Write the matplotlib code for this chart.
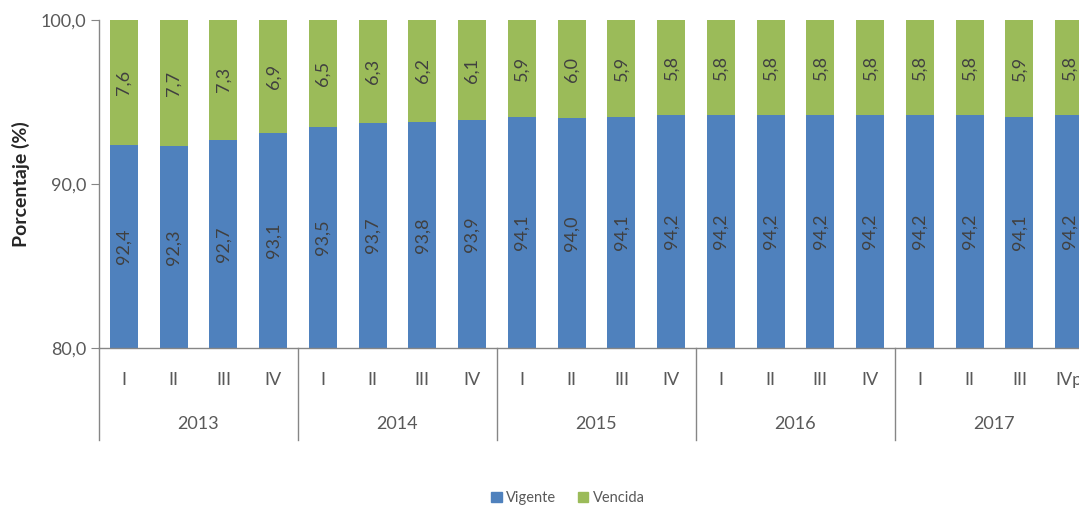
import numpy as np
import matplotlib
matplotlib.use('Agg')
import matplotlib.pyplot as plt
import matplotlib.transforms as mtransforms

plt.rcParams['font.family'] = ['Lato', 'DejaVu Sans']

years = ['2013', '2014', '2015', '2016', '2017']
quarters = ['I', 'II', 'III', 'IV', 'I', 'II', 'III', 'IV', 'I', 'II', 'III', 'IV',
            'I', 'II', 'III', 'IV', 'I', 'II', 'III', 'IVp']
vigente = [92.4, 92.3, 92.7, 93.1, 93.5, 93.7, 93.8, 93.9, 94.1, 94.0,
           94.1, 94.2, 94.2, 94.2, 94.2, 94.2, 94.2, 94.2, 94.1, 94.2]
vencida = [7.6, 7.7, 7.3, 6.9, 6.5, 6.3, 6.2, 6.1, 5.9, 6.0,
           5.9, 5.8, 5.8, 5.8, 5.8, 5.8, 5.8, 5.8, 5.9, 5.8]

blue = '#4F81BD'
green = '#9BBB59'
txt = '#404040'
axc = '#868686'

W, H = 1079, 508
fig = plt.figure(figsize=(W / 100, H / 100), dpi=100)
pitch = 49.75
ax = fig.add_axes([99 / W, (H - 348) / H, 20 * pitch / W, 328 / H])

x = np.arange(len(vigente))
vig = np.array(vigente)
ven = np.array(vencida)
ax.bar(x, vig, width=0.56, color=blue, zorder=2)
ax.bar(x, ven, width=0.56, bottom=vig, color=green, zorder=2)

ax.set_ylim(80, 100)
ax.set_xlim(-0.5, len(x) - 0.5)
ax.set_yticks([80, 90, 100])
ax.set_yticklabels(['80,0', '90,0', '100,0'], fontsize=13, color='#595959')
ax.tick_params(axis='y', length=6, color=axc, pad=3)
ax.set_xticks([])
for s in ['top', 'right']:
    ax.spines[s].set_visible(False)
for s in ['left', 'bottom']:
    ax.spines[s].set_color(axc)
    ax.spines[s].set_linewidth(1)

ax.set_ylabel('Porcentaje (%)', fontsize=14, fontweight='bold', color='#262626', labelpad=8)

# value labels, centered in the visible part of each segment
for i in range(len(x)):
    ax.text(x[i], (80 + vig[i]) / 2, f'{vig[i]:.1f}'.replace('.', ','), rotation=90,
            ha='center', va='center', fontsize=13, color=txt, zorder=3)
    ax.text(x[i], vig[i] + ven[i] / 2, f'{ven[i]:.1f}'.replace('.', ','), rotation=90,
            ha='center', va='center', fontsize=13, color=txt, zorder=3)

# two-level category axis
trans = mtransforms.blended_transform_factory(ax.transData, ax.transAxes)
for i, q in enumerate(quarters):
    ax.text(x[i], -32 / 328, q, transform=trans, ha='center', va='center',
            fontsize=13, color='#595959')
for k, yr in enumerate(years):
    ax.text(4 * k + 1.5, -76 / 328, yr, transform=trans, ha='center', va='center',
            fontsize=13, color='#595959')
    ax.plot([4 * k - 0.5, 4 * k - 0.5], [0, -92 / 328], transform=trans,
            color=axc, lw=1, clip_on=False)

handles = [plt.Rectangle((0, 0), 1, 1, color=blue), plt.Rectangle((0, 0), 1, 1, color=green)]
fig.legend(handles, ['Vigente', 'Vencida'], loc='center', bbox_to_anchor=(568 / W, 1 - 498 / H),
           ncol=2, frameon=False, fontsize=10.5, handlelength=0.7, handleheight=0.7,
           handletextpad=0.3, columnspacing=1.5, labelcolor='#595959')

fig.savefig('out.png', dpi=100)
